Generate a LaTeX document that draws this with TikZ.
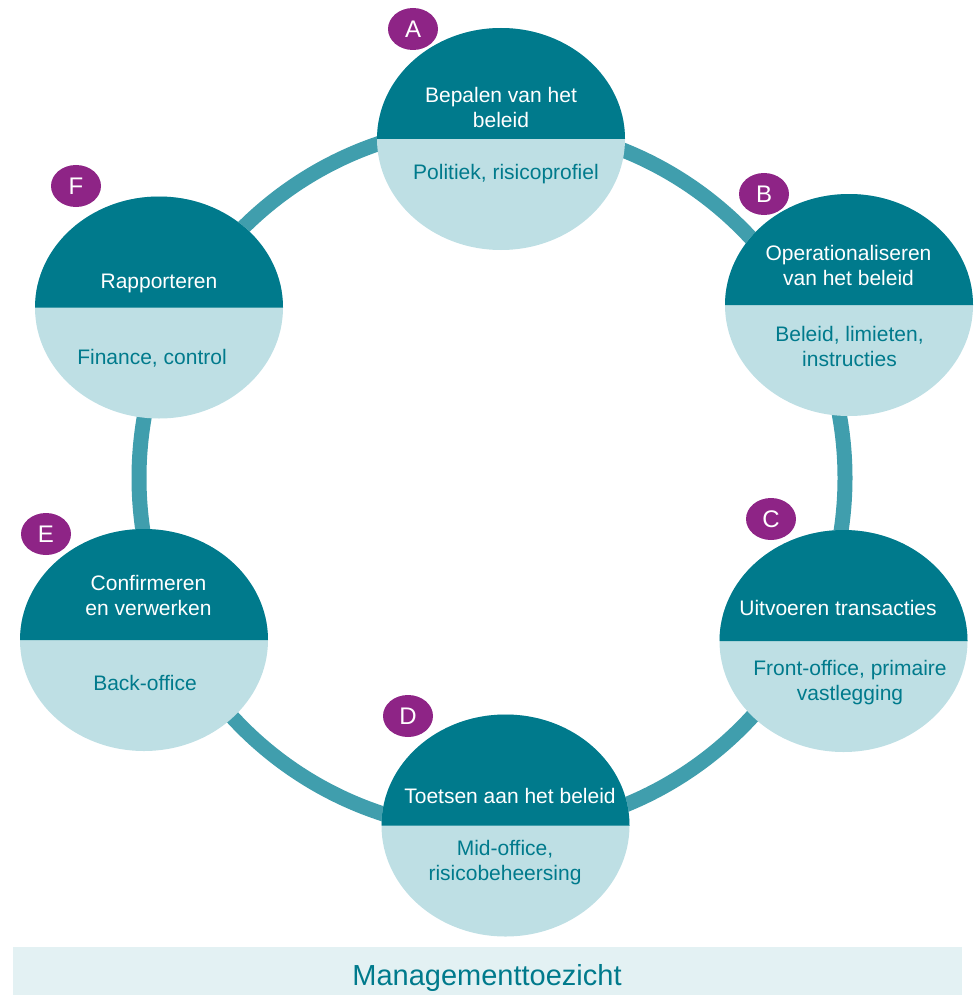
\documentclass[tikz,border=0pt]{standalone}
\usepackage{fontspec}
\setmainfont{Liberation Sans}
\usetikzlibrary{shapes.geometric}
\definecolor{darkc}{RGB}{0,122,140}
\definecolor{lightc}{RGB}{190,223,228}
\definecolor{ringc}{RGB}{64,158,173}
\definecolor{purp}{RGB}{142,36,134}
\definecolor{barbg}{RGB}{227,241,243}
\definecolor{tealtxt}{RGB}{0,122,140}
\tikzset{
  stage/.style={ellipse, fill=lightc, minimum width=248pt, minimum height=222pt, inner sep=0pt, outer sep=0pt},
  badge/.style={ellipse, fill=purp, text=white, minimum width=50pt, minimum height=42pt, inner sep=0pt, font=\fontsize{24}{24}\selectfont},
  head/.style={text=white, align=center, anchor=base, inner sep=0pt, font=\fontsize{21}{25}\selectfont},
  sub/.style={text=tealtxt, align=center, anchor=base, inner sep=0pt, font=\fontsize{21}{25}\selectfont},
  halfarc/.style={fill=darkc}
}
\begin{document}
\begin{tikzpicture}[x=1pt,y=-1pt]
\useasboundingbox (0,0) rectangle (976,995);
% ring
\coordinate (rc) at (492,478);
\draw[ringc, line width=15pt] (rc) circle[radius=353];
% stages
\foreach \n/\cx/\cy in {A/501/139, B/849/305, C/843.5/641, D/505.5/825.5, E/144/640, F/159/307.5}{
  \node[stage] (\n) at (\cx,\cy) {};
  \fill[halfarc] (\n.west) arc[start angle=180, end angle=360, x radius=124, y radius=111] -- cycle;
}
% texts (multi-line nodes: base = last line)
\node[head] (Ah) at (501,128) {Bepalen van het\\beleid};
\node[sub] (As) at (506,180) {Politiek, risicoprofiel};
\node[head] (Bh) at (848.5,285) {Operationaliseren\\van het beleid};
\node[sub] (Bs) at (849.5,366) {Beleid, limieten,\\instructies};
\node[head] (Ch) at (838,615) {Uitvoeren transacties};
\node[sub] (Cs) at (850,700) {Front-office, primaire\\vastlegging};
\node[head] (Dh) at (510,803) {Toetsen aan het beleid};
\node[sub] (Ds) at (505,880.5) {Mid-office,\\risicobeheersing};
\node[head] (Eh) at (148.5,615.5) {Confirmeren\\en verwerken};
\node[sub] (Es) at (145,690.5) {Back-office};
\node[head] (Fh) at (159,288) {Rapporteren};
\node[sub] (Fs) at (152,364) {Finance, control};
% badges
\node[badge] (bA) at (413,29) {A};
\node[badge] (bB) at (764,194) {B};
\node[badge] (bC) at (771,519) {C};
\node[badge] (bD) at (408,716) {D};
\node[badge] (bE) at (46,534) {E};
\node[badge] (bF) at (76,186) {F};
% bar
\fill[barbg] (12.5,947) rectangle (962,995);
\node[text=tealtxt, anchor=base, inner sep=0pt, font=\fontsize{29}{29}\selectfont] (mt) at (487,985) {Managementtoezicht};
\end{tikzpicture}
\end{document}
